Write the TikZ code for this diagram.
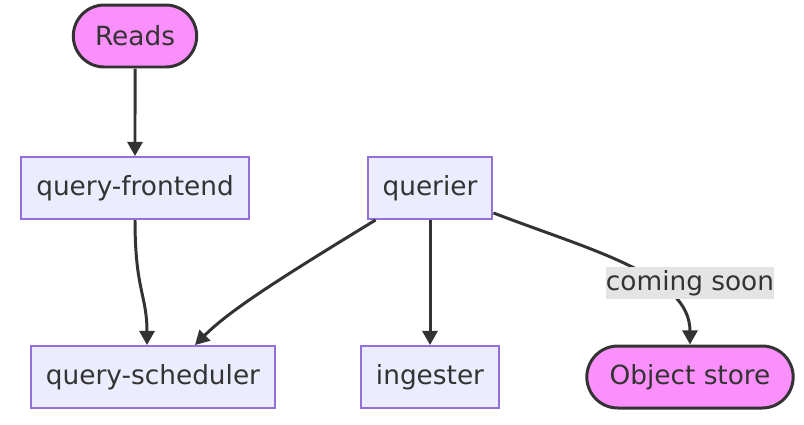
\documentclass[tikz,border=0pt]{standalone}
\usepackage{fontspec}
\setmainfont{DejaVu Sans}
\usepackage{tikz}
\newcommand{\nodeheight}{1.24cm}
\definecolor{boxFill}{HTML}{ECECFF}
\definecolor{boxLine}{HTML}{9370DB}
\definecolor{termFill}{HTML}{FB8FFB}
\definecolor{edgeCol}{HTML}{333333}
\definecolor{lblFill}{HTML}{E4E4E4}
\usetikzlibrary{arrows.meta,calc,positioning,shapes.misc}
\tikzset{
  >={Triangle[length=8pt,width=8.5pt]},
  font=\fontsize{15}{18}\selectfont,
  box/.style={draw=boxLine,fill=boxFill,line width=1.1pt,shape=rectangle,minimum height=\nodeheight,inner xsep=0.3cm,text=edgeCol},
  term/.style={draw=edgeCol,fill=termFill,line width=1.7pt,shape=rounded rectangle,minimum height=\nodeheight,inner xsep=0.4cm,text=edgeCol},
  line/.style={draw=edgeCol,->,line width=1.7pt},
  lbl/.style={fill=lblFill,inner xsep=0pt,inner ysep=2pt,text=edgeCol},
}
\begin{document}
\begin{tikzpicture}[x=0.02cm,y=-0.02cm]
      \useasboundingbox (0,0) rectangle (804,424);
      \node (reads) [term] at (135,36) {Reads};
      \node (frontend) [box] at (135,188) {query-frontend};
      \node (querier) [box] at (430,188) {querier};
      \node (scheduler) [box] at (153,377) {query-scheduler};
      \node (ingester) [box] at (430,377) {ingester};
      \node (store) [term] at (690,377) {Object store};
      \path [line] (reads) -- (frontend);
      \path [line] (frontend.south) .. controls +(0,70) and +(0,-50) .. ($(scheduler.north)+(-6,0)$);
      \path [line] ($(querier.south west)+(9,0)$) .. controls +(-95,58) and +(35,-35) .. ($(scheduler.north)+(42,0)$);
      \path [line] (querier) -- (ingester);
      \path [line] ($(querier.south east)!0.11!(querier.north east)$) .. controls (590,250) and (690,275) .. (store.north);
      \node (soon) [lbl] at (690,283) {coming soon};
    \end{tikzpicture}
\end{document}
